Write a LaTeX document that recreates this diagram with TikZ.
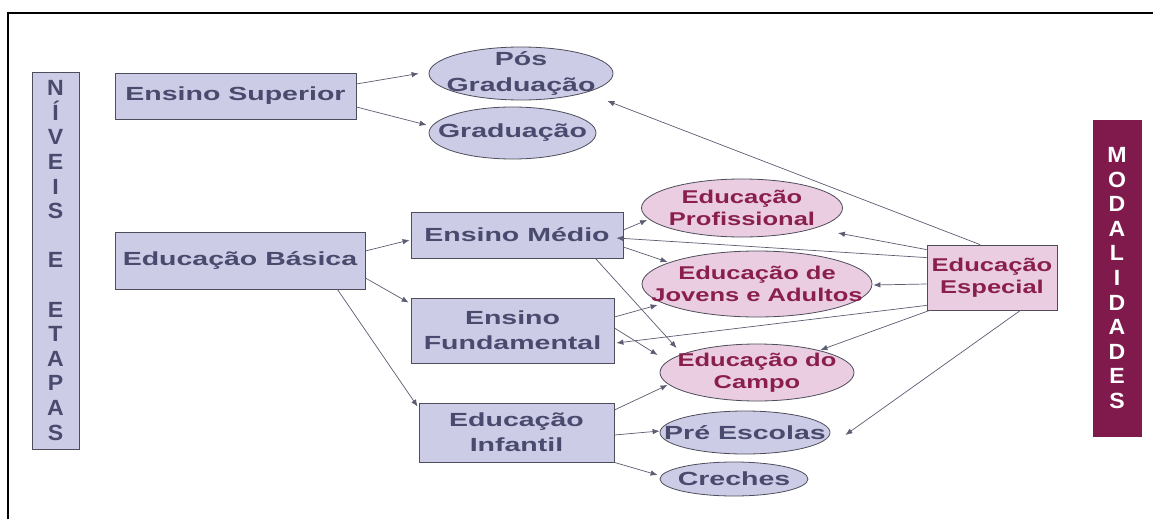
\documentclass[tikz,border=0pt]{standalone}
\usepackage{fontspec}
\usetikzlibrary{shapes.geometric,arrows.meta}
\newfontfamily\boxfont{Liberation Sans}[FakeStretch=1.5]
\newfontfamily\pinkfont{Liberation Sans}[FakeStretch=1.38]
\newfontfamily\sidefont{Liberation Sans}[FakeStretch=1.05]
\definecolor{lav}{HTML}{CCCCE6}
\definecolor{navytext}{HTML}{4A4A6E}
\definecolor{bord}{HTML}{4D4D5C}
\definecolor{pinkfill}{HTML}{EACDE0}
\definecolor{pinktext}{HTML}{8A1F4E}
\definecolor{maroonbar}{HTML}{801A4D}
\definecolor{conn}{HTML}{5C5C72}
\tikzset{
  box/.style={draw=bord, line width=0.8pt, fill=lav, rectangle, inner sep=0pt, align=center,
    text=navytext, font=\boxfont\bfseries\fontsize{19}{25}\selectfont},
  pbox/.style={box, fill=pinkfill, text=pinktext, font=\pinkfont\bfseries\fontsize{18.5}{22.5}\selectfont},
  ell/.style={draw=bord, line width=0.8pt, fill=lav, ellipse, inner sep=0pt},
  pell/.style={ell, fill=pinkfill},
  etxt/.style={align=center, inner sep=0pt, text=navytext, font=\boxfont\bfseries\fontsize{19}{26}\selectfont},
  ptxt/.style={align=center, inner sep=0pt, text=pinktext, font=\pinkfont\bfseries\fontsize{18.5}{22.5}\selectfont},
  side/.style={draw=bord, line width=0.8pt, rectangle, inner sep=0pt, align=center,
    font=\sidefont\bfseries\fontsize{22}{24.6}\selectfont},
  conn/.style={draw=conn, line width=0.7pt, -{Latex[length=7pt,width=5.5pt]}},
}
\begin{document}
\begin{tikzpicture}[x=1pt,y=-1pt]
\useasboundingbox (0,0) rectangle (1153,519);
\fill[white] (0,0) rectangle (1153,519);
\draw[line width=1.5pt] (8,519) -- (8,13) -- (1153,13);

% side columns
\node[side, fill=lav, text=navytext, minimum width=47pt, minimum height=377pt] (niveis) at (55.5,260.5)
  {N\\Í\\V\\E\\I\\S\\[24.6pt]E\\[24.6pt]E\\T\\A\\P\\A\\S};
\node[side, fill=maroonbar, draw=maroonbar, text=white, minimum width=48pt, minimum height=316pt] (modal) at (1117,278)
  {M\\O\\D\\A\\L\\I\\D\\A\\D\\E\\S};

% boxes
\node[box, minimum width=241pt, minimum height=46pt] (sup) at (235.5,96) {Ensino Superior};
\node[box, minimum width=250pt, minimum height=57pt] (bas) at (240,260.5) {Educação Básica};
\node[box, minimum width=212pt, minimum height=46pt] (med) at (517,235) {Ensino Médio};
\node[box, minimum width=203pt, minimum height=65pt] (fund) at (512.5,330.5) {Ensino\\Fundamental};
\node[box, minimum width=195pt, minimum height=59pt] (inf) at (516.5,432.5) {Educação\\Infantil};
\node[pbox, minimum width=130pt, minimum height=65pt] (esp) at (992,277.5) {Educação\\Especial};

% ellipses
\node[ell, minimum width=184pt, minimum height=53pt, label={[etxt]center:Pós\\Graduação}] (pos) at (521,73.5) {};
\node[ell, minimum width=167pt, minimum height=52pt, label={[etxt]center:Graduação}] (grad) at (512.5,133) {};
\node[pell, minimum width=201pt, minimum height=58pt, label={[ptxt]center:Educação\\Profissional}] (prof) at (742,208) {};
\node[pell, minimum width=230pt, minimum height=66pt, label={[ptxt]center:Educação de\\Jovens e Adultos}] (eja) at (757,284) {};
\node[pell, minimum width=194pt, minimum height=57pt, label={[ptxt]center:Educação do\\Campo}] (campo) at (757,372.5) {};
\node[ell, minimum width=170pt, minimum height=43pt, label={[etxt]center:Pré Escolas}] (pre) at (745,432.5) {};
\node[ell, minimum width=148pt, minimum height=34pt, label={[etxt]center:Creches}] (cre) at (734,479) {};

% connectors from levels
\draw[conn] ([yshift=12pt]sup.east) -- ([xshift=-10pt]pos.west);
\draw[conn] ([yshift=-11pt]sup.east) -- ([shift={(-2pt,8pt)}]grad.west);
\draw[conn] ([yshift=9.5pt]bas.east) -- ([shift={(-1pt,-5pt)}]med.west);
\draw[conn] ([yshift=-17.5pt]bas.east) -- ([shift={(-2pt,-5pt)}]fund.north west);
\draw[conn] ([xshift=-28pt]bas.south east) -- ([shift={(-1pt,-4pt)}]inf.north west);
\draw[conn] ([yshift=5pt]med.east) -- ([shift={(6pt,-12pt)}]prof.west);
\draw[conn] ([yshift=-12pt]med.east) -- ([shift={(26pt,22pt)}]eja.west);
\draw[conn] ([xshift=-28pt]med.south east) -- ([shift={(17pt,24.5pt)}]campo.west);
\draw[conn] ([yshift=13.5pt]fund.east) -- ([shift={(16pt,-21pt)}]eja.west);
\draw[conn] ([yshift=2.5pt]fund.east) -- ([shift={(-2pt,17.5pt)}]campo.west);
\draw[conn] ([yshift=22.5pt]inf.east) -- ([shift={(8pt,-12.5pt)}]campo.west);
\draw[conn] ([yshift=-2.5pt]inf.east) -- ([yshift=1.5pt]pre.west);
\draw[conn] (inf.south east) -- ([shift={(-2pt,4pt)}]cre.west);

% connectors from Educação Especial
\draw[conn] ([xshift=-12pt]esp.north) -- ([shift={(-6pt,-27.5pt)}]pos.east);
\draw[conn] ([yshift=-5pt]esp.north west) -- ([shift={(-5pt,-25pt)}]prof.east);
\draw[conn] ([yshift=-13pt]esp.north west) -- ([shift={(-7pt,-3pt)}]med.east);
\draw[conn] ([yshift=-6.5pt]esp.west) -- ([shift={(1pt,-1pt)}]eja.east);
\draw[conn] ([yshift=5pt]esp.south west) -- ([shift={(2pt,-12.5pt)}]fund.east);
\draw[conn] ([xshift=3pt]esp.south west) -- ([shift={(-34pt,22.5pt)}]campo.east);
\draw[conn] ([xshift=-37pt]esp.south east) -- ([shift={(15pt,-2.5pt)}]pre.east);
\end{tikzpicture}
\end{document}
